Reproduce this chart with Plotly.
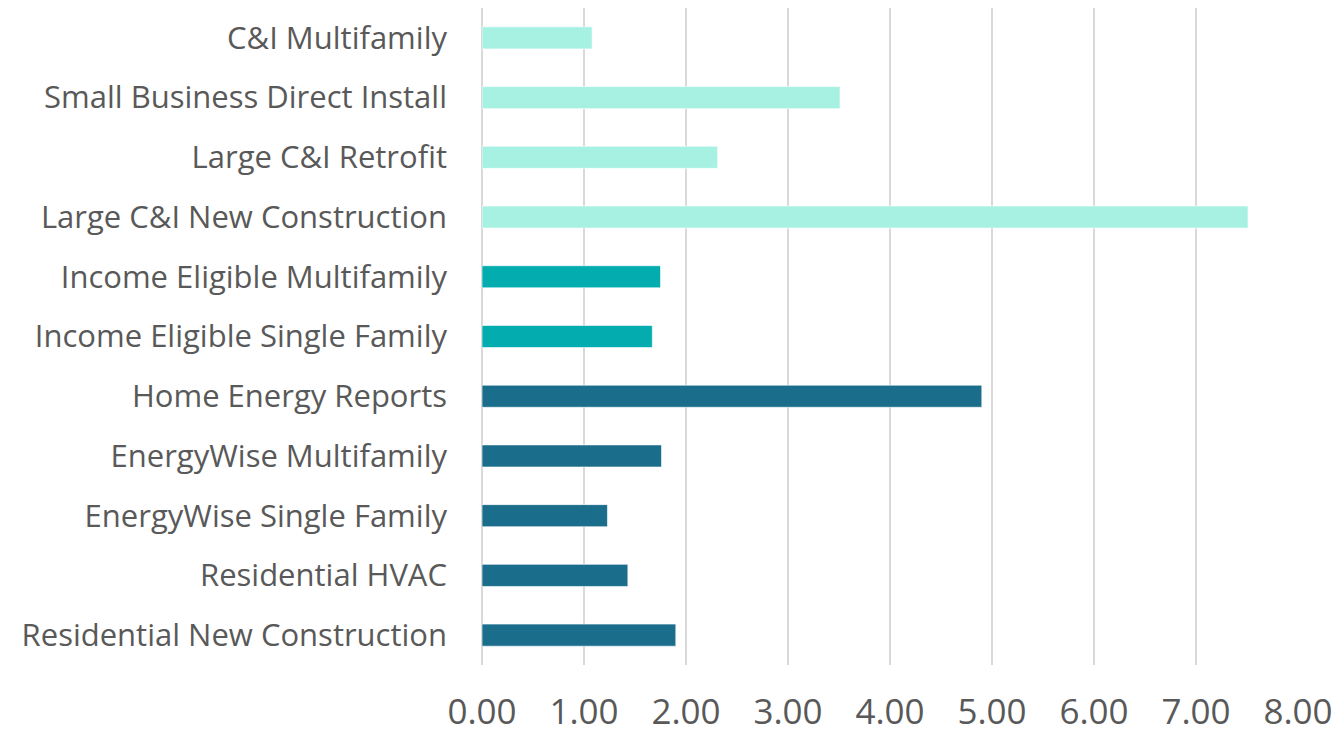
import plotly.graph_objects as go

programs = [
    "C&I Multifamily",
    "Small Business Direct Install",
    "Large C&I Retrofit",
    "Large C&I New Construction",
    "Income Eligible Multifamily",
    "Income Eligible Single Family",
    "Home Energy Reports",
    "EnergyWise Multifamily",
    "EnergyWise Single Family",
    "Residential HVAC",
    "Residential New Construction",
]
ratios = [1.08, 3.51, 2.31, 7.51, 1.75, 1.67, 4.90, 1.76, 1.23, 1.43, 1.90]
sector = ["C&I", "C&I", "C&I", "C&I", "IE", "IE", "Res", "Res", "Res", "Res", "Res"]
x_ticks = [0, 1, 2, 3, 4, 5, 6, 7, 8]

sector_colors = {"C&I": "#A7F1E3", "IE": "#02ACAF", "Res": "#1A6D8B"}
bar_colors = [sector_colors[s] for s in sector]

fig = go.Figure(
    go.Bar(
        x=ratios,
        y=programs,
        orientation="h",
        marker=dict(color=bar_colors, line=dict(color="rgba(255,255,255,0.6)", width=1)),
        hoverinfo="x+y",
    )
)

fig.update_layout(
    width=1337,
    height=737,
    margin=dict(l=482, r=39, t=8, b=72),
    paper_bgcolor="white",
    plot_bgcolor="white",
    bargap=0.63,
    showlegend=False,
    font=dict(family="Open Sans", color="#595959"),
)
fig.update_xaxes(
    range=[0, 8],
    tickvals=x_ticks,
    tickformat=".2f",
    showgrid=True,
    gridcolor="#D9D9D9",
    gridwidth=2,
    zeroline=True,
    zerolinecolor="#D9D9D9",
    zerolinewidth=2,
    showline=False,
    automargin=False,
    tickfont=dict(size=35, color="#595959"),
    ticklabelstandoff=23,
)
fig.update_yaxes(
    autorange="reversed",
    showgrid=False,
    showline=False,
    zeroline=False,
    automargin=False,
    tickfont=dict(size=31, color="#595959"),
    ticklabelstandoff=34,
)

fig.write_html("out.html")
